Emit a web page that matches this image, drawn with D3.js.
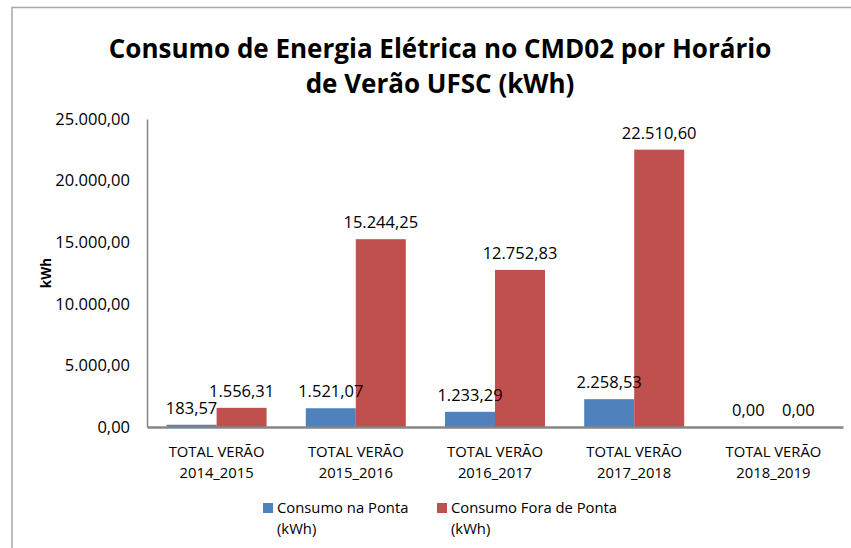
<!DOCTYPE html>
<html>
<head>
<meta charset="utf-8">
<script src="https://cdn.jsdelivr.net/npm/d3@7"></script>
<style>
  body { margin: 0; background: #fff; }
  svg { font-family: "Open Sans", sans-serif; }
</style>
</head>
<body>
<div id="d3-container"></div>
<script>
/**
 * DATA
 * */
const periodos = ["2014_2015", "2015_2016", "2016_2017", "2017_2018", "2018_2019"];
const consumoPonta = [183.57, 1521.07, 1233.29, 2258.53, 0];
const consumoForaPonta = [1556.31, 15244.25, 12752.83, 22510.60, 0];
const series = ["Consumo na Ponta", "Consumo Fora de Ponta"];
const yTicks = [0, 5000, 10000, 15000, 20000, 25000];

/**
 * CONSTANTS
 * */
const width = 851,
  height = 548,
  margin = { top: 119, bottom: 121, left: 147, right: 8 };
const colors = ["#4F81BD", "#C0504D"];
const numSize = 16.5,  // digits look wider in the original
  textSize = 14.8;

// numbers like 1.556,31
const ptBR = d3.formatLocale({ decimal: ",", thousands: ".", grouping: [3], currency: ["R$", ""] });
const fmt = ptBR.format(",.2f");

const rows = periodos.map((p, i) => ({
  periodo: p,
  values: [consumoPonta[i], consumoForaPonta[i]]
}));

const svg = d3.select("#d3-container")
  .append("svg")
  .attr("width", width)
  .attr("height", height);

// chart border (top and left only visible)
svg.append("path")
  .attr("d", `M12,${height} L12,7.5 L${width},7.5`)
  .attr("fill", "none")
  .attr("stroke", "#a6a6a6")
  .attr("stroke-width", 1.5);

// SCALES
const xScale = d3.scaleBand()
  .domain(periodos)
  .range([margin.left, width - margin.right])
  .padding(0);

const xInner = d3.scaleBand()
  .domain([0, 1])
  .range([0, xScale.bandwidth()])
  .paddingInner(0)
  .paddingOuter(0.392);

const yScale = d3.scaleLinear()
  .domain([0, 25000])
  .range([height - margin.bottom, margin.top]);

// TITLE
const title = svg.append("text")
  .attr("text-anchor", "middle")
  .attr("font-weight", "bold")
  .attr("font-size", 26)
  .attr("fill", "#000");
title.append("tspan").attr("x", 440).attr("y", 58).text("Consumo de Energia Elétrica no CMD02 por Horário");
title.append("tspan").attr("x", 440).attr("y", 93).text("de Verão UFSC (kWh)");

// BARS
const groups = svg.selectAll(".grupo")
  .data(rows)
  .join("g")
  .attr("class", "grupo")
  .attr("transform", d => `translate(${xScale(d.periodo)},0)`);

groups.selectAll("rect")
  .data(d => d.values)
  .join("rect")
  .attr("x", (d, i) => xInner(i))
  .attr("width", xInner.bandwidth())
  .attr("y", d => yScale(d))
  .attr("height", d => yScale(0) - yScale(d))
  .attr("fill", (d, i) => colors[i]);

groups.selectAll(".label")
  .data(d => d.values)
  .join("text")
  .attr("class", "label")
  .attr("x", (d, i) => xInner(i) + xInner.bandwidth() / 2)
  .attr("y", d => yScale(d) - 11)
  .attr("text-anchor", "middle")
  .attr("font-size", numSize)
  .attr("fill", "#000")
  .text(d => fmt(d));

// AXES
const yAxis = d3.axisLeft(yScale)
  .tickValues(yTicks)
  .tickSize(0)
  .tickPadding(17)
  .tickFormat(fmt);

const yG = svg.append("g")
  .attr("class", "axis y-axis")
  .attr("transform", `translate(${margin.left},0)`)
  .call(yAxis);
yG.select(".domain").attr("stroke", "#868686").attr("stroke-width", 1.5);
yG.selectAll("text").attr("font-size", numSize).attr("fill", "#000").attr("font-family", "Open Sans");

const xAxis = d3.axisBottom(xScale).tickSize(0).tickFormat("");
const xG = svg.append("g")
  .attr("class", "axis x-axis")
  .attr("transform", `translate(0,${height - margin.bottom})`)
  .call(xAxis);
xG.select(".domain").attr("stroke", "#868686").attr("stroke-width", 2.5);

// two-line category labels
const cat = svg.selectAll(".cat")
  .data(periodos)
  .join("text")
  .attr("class", "cat")
  .attr("text-anchor", "middle")
  .attr("font-size", textSize)
  .attr("fill", "#000");
cat.append("tspan")
  .attr("x", d => xScale(d) + xScale.bandwidth() / 2)
  .attr("y", 457)
  .text("TOTAL VERÃO");
cat.append("tspan")
  .attr("x", d => xScale(d) + xScale.bandwidth() / 2)
  .attr("y", 478)
  .text(d => d);

// y axis title
svg.append("text")
  .attr("transform", `translate(51,${(yScale(0) + yScale(25000)) / 2}) rotate(-90)`)
  .attr("text-anchor", "middle")
  .attr("font-weight", "bold")
  .attr("font-size", 13.5)
  .attr("fill", "#000")
  .text("kWh");

// LEGEND
const legendX = [263, 437];
const legend = svg.selectAll(".legend")
  .data(series)
  .join("g")
  .attr("class", "legend")
  .attr("transform", (d, i) => `translate(${legendX[i]},503)`);

legend.append("rect")
  .attr("width", 10)
  .attr("height", 10)
  .attr("fill", (d, i) => colors[i]);

const lt = legend.append("text")
  .attr("font-size", textSize)
  .attr("fill", "#000");
lt.append("tspan").attr("x", 14).attr("y", 10).text(d => d);
lt.append("tspan").attr("x", 14).attr("y", 31).text("(kWh)");
</script>
</body>
</html>
